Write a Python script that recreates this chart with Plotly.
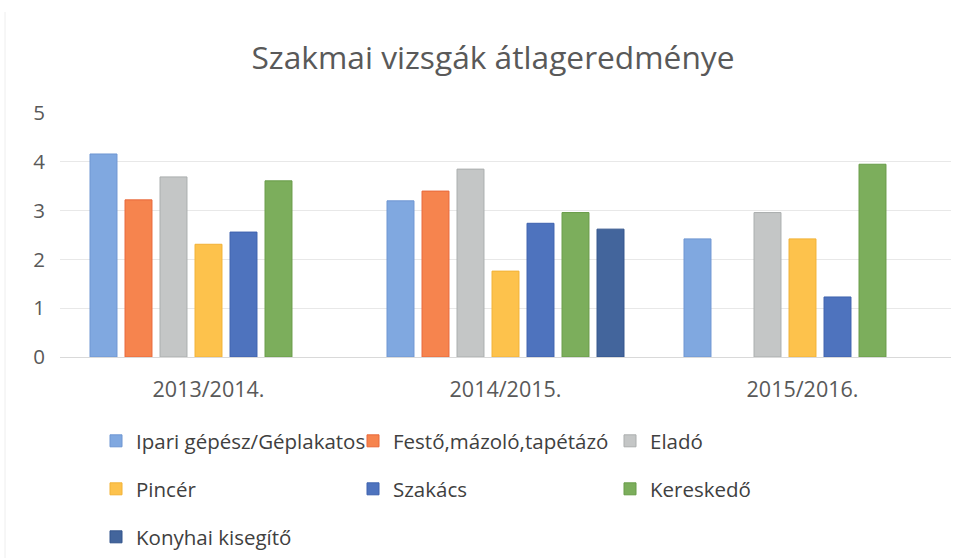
import plotly.graph_objects as go

categories = ["2013/2014.", "2014/2015.", "2015/2016."]
series_names = ["Ipari gépész/Géplakatos", "Festő,mázoló,tapétázó", "Eladó",
                "Pincér", "Szakács", "Kereskedő", "Konyhai kisegítő"]
ipari = [4.16, 3.20, 2.42]
festo = [3.22, 3.40, None]
elado = [3.69, 3.85, 2.96]
pincer = [2.31, 1.76, 2.42]
szakacs = [2.56, 2.74, 1.23]
kereskedo = [3.61, 2.96, 3.95]
konyhai = [None, 2.62, None]
y_ticks = [0, 1, 2, 3, 4, 5]

values = [ipari, festo, elado, pincer, szakacs, kereskedo, konyhai]
colors = ["#80A8E0", "#F6844E", "#C4C6C6", "#FDC24C", "#4E73BE", "#7CAE5C", "#43659C"]
edges = ["#6E96D2", "#E8683A", "#ABAEAE", "#F2B236", "#3E62AE", "#689C48", "#33558C"]
legend_of = ["legend", "legend", "legend", "legend2", "legend2", "legend2", "legend3"]

FONT = "Open Sans"
fig = go.Figure()
for name, vals, c, e, lg in zip(series_names, values, colors, edges, legend_of):
    fig.add_trace(go.Bar(name=name, x=categories, y=vals,
                         marker=dict(color=c, line=dict(color=e, width=1)),
                         legend=lg))

W, H = 967, 558
leg_common = dict(orientation="h", xref="container", yref="container",
                  xanchor="left", yanchor="middle", entrywidth=212, entrywidthmode="pixels",
                  font=dict(family=FONT, size=20.5, color="#404040"),
                  bgcolor="rgba(0,0,0,0)", itemclick=False, itemdoubleclick=False)
lx = 96 / W
fig.update_layout(
    width=W, height=H,
    paper_bgcolor="white", plot_bgcolor="white",
    margin=dict(l=60, r=16, t=113, b=201, autoexpand=False),
    barmode="group", bargap=0.175, bargroupgap=0.23,
    title=dict(text="Szakmai vizsgák átlageredménye", xref="container", yref="container",
               x=493 / W, y=1 - 58 / H, xanchor="center", yanchor="middle",
               font=dict(family=FONT, size=31.7, color="#595959")),
    font=dict(family=FONT, color="#595959"),
    legend=dict(leg_common, x=lx, y=1 - 441 / H),
    legend2=dict(leg_common, x=lx, y=1 - 489 / H),
    legend3=dict(leg_common, x=lx, y=1 - 537 / H),
    xaxis=dict(showgrid=False, showline=True, linecolor="#D9D9D9", linewidth=1,
               tickfont=dict(family=FONT, size=21.5, color="#595959"), ticks="",
               ticklabelstandoff=13),
    yaxis=dict(range=[0, 5], tickvals=y_ticks, showgrid=True, gridcolor="#E8E8E8",
               gridwidth=1, zeroline=False, showline=False,
               tickfont=dict(family=FONT, size=20.5, color="#595959"), ticks="",
               ticklabelstandoff=14),
)
fig.add_shape(type="line", xref="x domain", yref="y domain", x0=-55 / 891, x1=-55 / 891,
              y0=-201 / 244, y1=(244 + 101) / 244, line=dict(color="#EEEEEE", width=1))
fig.write_html("out.html", post_script="document.body.style.margin='0';",
               config={"displayModeBar": False})
